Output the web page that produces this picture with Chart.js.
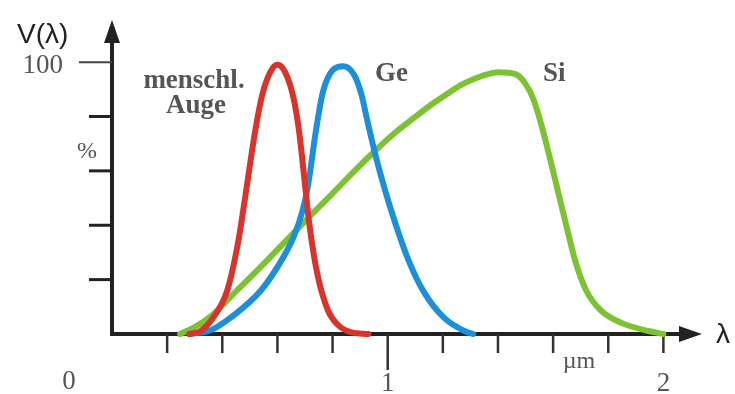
<!DOCTYPE html>
<html>
<head>
<meta charset="utf-8">
<script src="https://cdn.jsdelivr.net/npm/chart.js@4.4.1/dist/chart.umd.min.js"></script>
<style>
  html, body { margin: 0; padding: 0; background: #fff; }
  canvas { display: block; }
</style>
</head>
<body>
<canvas id="vcanvas" width="735" height="394"></canvas>
<script>
// wavelength in µm, relative sensitivity V(λ) in %
var eyeLambda = [0.28, 0.32, 0.367, 0.418, 0.458, 0.484, 0.52, 0.545, 0.575, 0.60, 0.627, 0.658, 0.678, 0.70, 0.715, 0.745, 0.782, 0.818, 0.865, 0.93];
var eyeV      = [0,    1,    6,     16,    34,    51,    75,   88,    96.5,  99,   96.5,  87,    75,    55,    41,    22,    9,     3.5,   0.7,   0];

var geLambda = [0.28, 0.36, 0.43, 0.54, 0.62, 0.66, 0.69, 0.71, 0.74, 0.765, 0.80, 0.84, 0.88, 0.905, 0.925, 0.955, 0.99, 1.03, 1.076, 1.131, 1.204, 1.276, 1.31];
var geV      = [0,    1.5,  6,    16,   28,   36,   45,   54,   75,   89,    97,   98.5, 95,   88,    79,    66,    53,   40,   27,    15.5,  6,     1.2,   0];

var siLambda = [0.247, 0.30, 0.356, 0.455, 0.575, 0.695, 0.793, 0.87, 0.945, 1.02, 1.095, 1.16, 1.218, 1.27, 1.313, 1.36, 1.40, 1.465, 1.50, 1.53, 1.56, 1.59, 1.62, 1.65, 1.68, 1.72, 1.77, 1.85, 1.95, 2.0];
var siV      = [0,     2.5,   6.3,   16.2,  28.4,  41,    51,    59,   66.5,  73.5, 79.5,  84.5, 88.5,  91.8, 93.8,  95.5, 96.3, 95.5,  92,   86,   76,   64,   51.5, 39,   27,   16,   9,    4,    1,    0];

var xTicks = [0.2, 0.4, 0.6, 0.8, 1.0, 1.2, 1.4, 1.6, 1.8, 2.0];
var yTicks = [20, 40, 60, 80, 100];
var xTickLabels = [{v: 1, t: '1'}, {v: 2, t: '2'}];

function pts(xs, ys) {
    return xs.map(function (x, i) { return {x: x, y: ys[i]}; });
}

function curve(label, xs, ys, color) {
    return {
        label: label,
        data: pts(xs, ys),
        borderColor: color,
        borderWidth: 6,
        pointRadius: 0,
        fill: false,
        cubicInterpolationMode: 'monotone',
        borderCapStyle: 'round',
        borderJoinStyle: 'round',
        clip: false
    };
}

var axesPlugin = {
    id: 'axes',
    beforeDatasetsDraw: function (chart) {
        var ctx = chart.ctx;
        var xs = chart.scales.x, ys = chart.scales.y;
        var x0 = xs.getPixelForValue(0), y0 = ys.getPixelForValue(0);
        var yTop = ys.getPixelForValue(ys.max);
        var xEnd = xs.getPixelForValue(xs.max);
        ctx.save();
        ctx.strokeStyle = '#222';
        ctx.fillStyle = '#222';
        ctx.lineWidth = 4;
        ctx.beginPath();
        ctx.moveTo(x0, y0 + 2);
        ctx.lineTo(x0, yTop + 20);
        ctx.moveTo(x0 - 2, y0);
        ctx.lineTo(xEnd - 20, y0);
        ctx.stroke();
        // arrow heads
        ctx.beginPath();
        ctx.moveTo(x0, yTop);
        ctx.lineTo(x0 - 8, yTop + 23);
        ctx.lineTo(x0 + 8, yTop + 23);
        ctx.closePath();
        ctx.fill();
        ctx.beginPath();
        ctx.moveTo(xEnd, y0);
        ctx.lineTo(xEnd - 23, y0 - 8);
        ctx.lineTo(xEnd - 23, y0 + 8);
        ctx.closePath();
        ctx.fill();
        // y ticks
        yTicks.forEach(function (v) {
            var py = ys.getPixelForValue(v);
            ctx.lineWidth = v === 100 ? 2 : 3;
            ctx.strokeStyle = v === 100 ? '#444' : '#222';
            ctx.beginPath();
            ctx.moveTo(v === 100 ? x0 - 33 : x0 - 23, py);
            ctx.lineTo(x0, py);
            ctx.stroke();
        });
        // x ticks
        xTicks.forEach(function (v) {
            var px = xs.getPixelForValue(v);
            var major = Math.abs(v - 1) < 1e-6;
            ctx.lineWidth = 2.5;
            ctx.strokeStyle = '#333';
            ctx.beginPath();
            ctx.moveTo(px, y0);
            ctx.lineTo(px, y0 + (major ? 36 : 19));
            ctx.stroke();
        });
        ctx.restore();
    },
    afterDraw: function (chart) {
        var ctx = chart.ctx;
        var xs = chart.scales.x;
        ctx.save();
        ctx.textBaseline = 'alphabetic';
        // axis titles
        ctx.fillStyle = '#222';
        ctx.font = '28px "Liberation Sans", Arial, sans-serif';
        ctx.textAlign = 'left';
        ctx.fillText('V(λ)', 17, 43);
        ctx.fillText('λ', 716, 343);
        // tick labels
        ctx.fillStyle = '#555';
        ctx.font = '27px "Liberation Serif", "Times New Roman", serif';
        ctx.textAlign = 'right';
        ctx.fillText('100', 63, 73);
        ctx.textAlign = 'center';
        ctx.fillText('0', 69, 389);
        xTickLabels.forEach(function (l) {
            ctx.fillText(l.t, xs.getPixelForValue(l.v), 391);
        });
        ctx.font = '24px "Liberation Serif", "Times New Roman", serif';
        ctx.fillText('%', 87, 158);
        ctx.fillText('µm', 579, 368);
        // curve names
        ctx.fillStyle = '#555';
        ctx.font = 'bold 27px "Liberation Serif", "Times New Roman", serif';
        ctx.fillText('menschl.', 194, 88);
        ctx.fillText('Auge', 196, 113);
        ctx.textAlign = 'left';
        ctx.fillText('Ge', 375, 81);
        ctx.fillText('Si', 543, 81);
        ctx.restore();
    }
};

new Chart(document.getElementById('vcanvas').getContext('2d'), {
    type: 'line',
    data: {
        datasets: [
            curve('menschl. Auge', eyeLambda, eyeV, '#d9342b'),
            curve('Ge', geLambda, geV, '#1b8fd9'),
            curve('Si', siLambda, siV, '#7cc233')
        ]
    },
    options: {
        responsive: false,
        animation: false,
        layout: { padding: { left: 112, top: 20, right: 33, bottom: 60 } },
        plugins: { legend: { display: false }, tooltip: { enabled: false } },
        scales: {
            x: { type: 'linear', min: 0, max: 2.14, display: false },
            y: { type: 'linear', min: 0, max: 115.5, display: false }
        }
    },
    plugins: [axesPlugin]
});
</script>
</body>
</html>
